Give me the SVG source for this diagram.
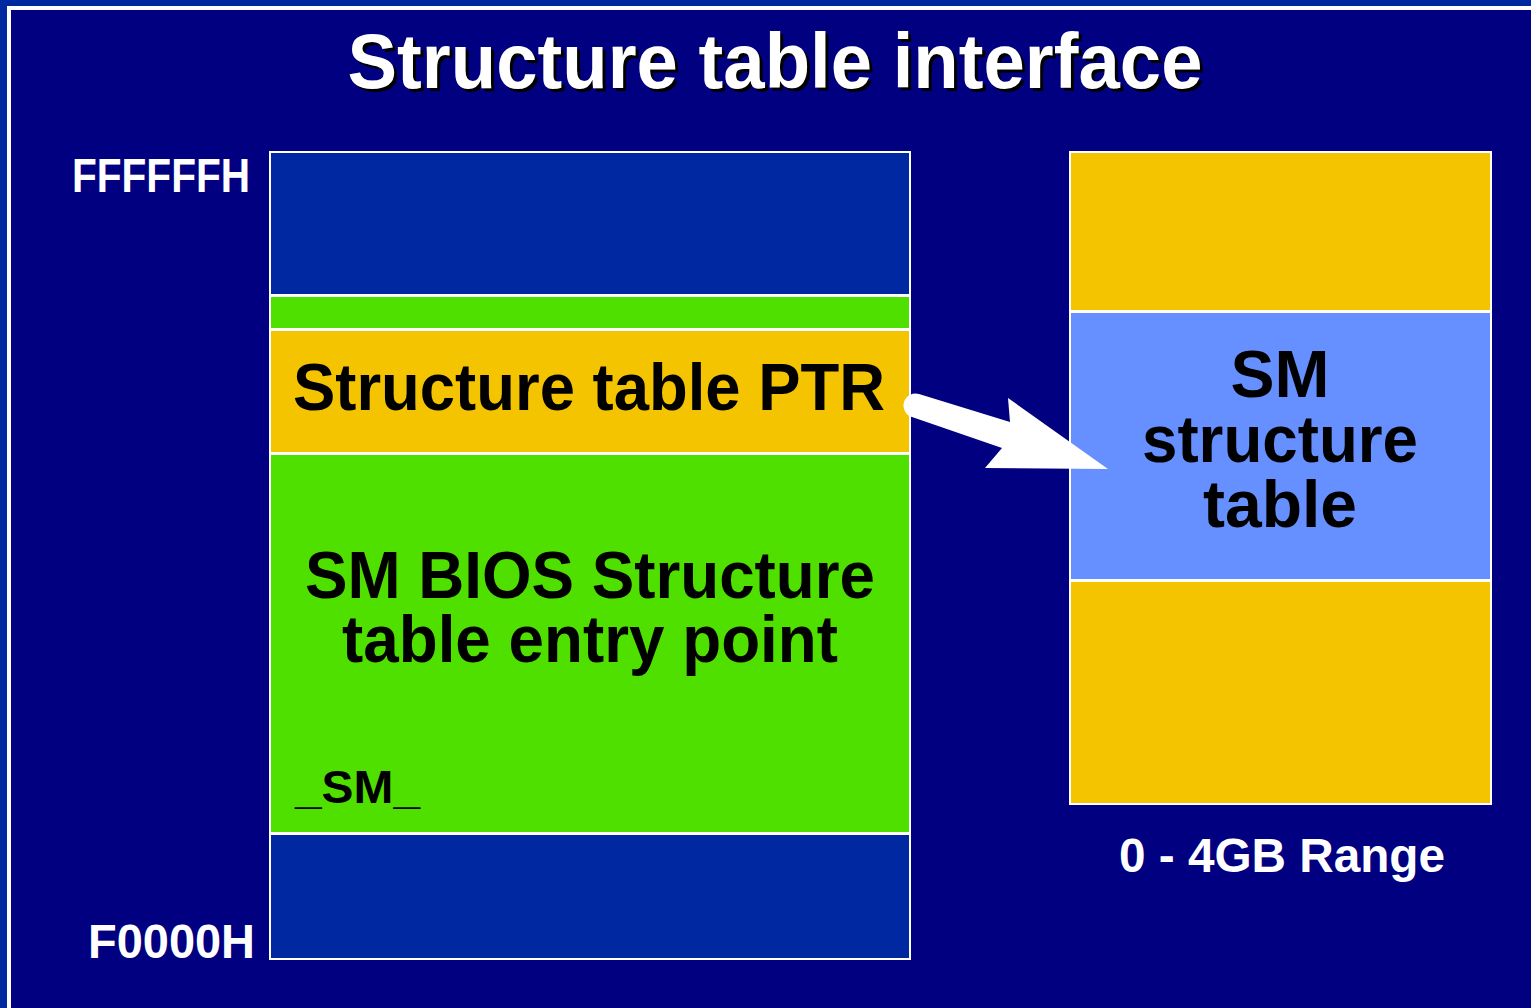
<svg xmlns="http://www.w3.org/2000/svg" width="1531" height="1008" viewBox="0 0 1531 1008">
<style>
.t{font-family:"Liberation Sans",Arial,sans-serif;font-weight:bold}
.w{fill:#ffffff}
.k{fill:#000000}
.sec{stroke:#ffffff;stroke-width:2}
.blue{fill:#0028a0}
.green{fill:#50e000}
.yellow{fill:#f4c400}
.lblue{fill:#6690ff}
</style>
<rect x="0" y="0" width="1531" height="1008" fill="#0028a0"/>
<rect x="9" y="8" width="1540" height="1020" fill="#000080" stroke="#ffffff" stroke-width="4"/>
<g id="title">
<text class="t k" x="778" y="91" font-size="77" text-anchor="middle" textLength="855" lengthAdjust="spacingAndGlyphs">Structure table interface</text>
<text class="t w" x="775" y="88" font-size="77" text-anchor="middle" textLength="855" lengthAdjust="spacingAndGlyphs">Structure table interface</text>
</g>
<g id="addr-labels">
<text class="t w" x="72" y="192" font-size="48" textLength="178" lengthAdjust="spacingAndGlyphs">FFFFFFH</text>
<text class="t w" x="88" y="958" font-size="48" textLength="167" lengthAdjust="spacingAndGlyphs">F0000H</text>
</g>
<g id="bios-region">
<rect class="sec blue" x="270" y="152" width="640" height="143"/>
<rect class="sec green" x="270" y="296" width="640" height="33"/>
<rect class="sec blue" x="270" y="834" width="640" height="125"/>
</g>
<g id="ptr">
<rect class="sec yellow" x="270" y="330" width="640" height="123"/>
<text class="t k" x="589" y="410" font-size="66" text-anchor="middle" textLength="592" lengthAdjust="spacingAndGlyphs">Structure table PTR</text>
</g>
<g id="entry-point">
<rect class="sec green" x="270" y="454" width="640" height="379"/>
<text class="t k" x="590" y="598" font-size="66" text-anchor="middle" textLength="570" lengthAdjust="spacingAndGlyphs">SM BIOS Structure</text>
<text class="t k" x="590" y="662" font-size="66" text-anchor="middle" textLength="496" lengthAdjust="spacingAndGlyphs">table entry point</text>
<text class="t k" x="295" y="803" font-size="46" textLength="125" lengthAdjust="spacingAndGlyphs">_SM_</text>
</g>
<g id="range">
<rect class="sec yellow" x="1070" y="152" width="421" height="159"/>
<rect class="sec yellow" x="1070" y="581" width="421" height="223"/>
<text class="t w" x="1282" y="872" font-size="48" text-anchor="middle" textLength="326" lengthAdjust="spacingAndGlyphs">0 - 4GB Range</text>
</g>
<g id="sm-table">
<rect class="sec lblue" x="1070" y="312" width="421" height="268"/>
<text class="t k" x="1280" y="397" font-size="66" text-anchor="middle">SM</text>
<text class="t k" x="1280" y="462" font-size="66" text-anchor="middle" textLength="276" lengthAdjust="spacingAndGlyphs">structure</text>
<text class="t k" x="1280" y="527" font-size="66" text-anchor="middle">table</text>
</g>
<g id="connectors">
<path d="M1010,422 L1008,398 L1108,469 L985,468 L1002,448 L912,417 A11.5,11.5 0 0 1 919,394 Z" fill="#ffffff"/>
</g>
</svg>
